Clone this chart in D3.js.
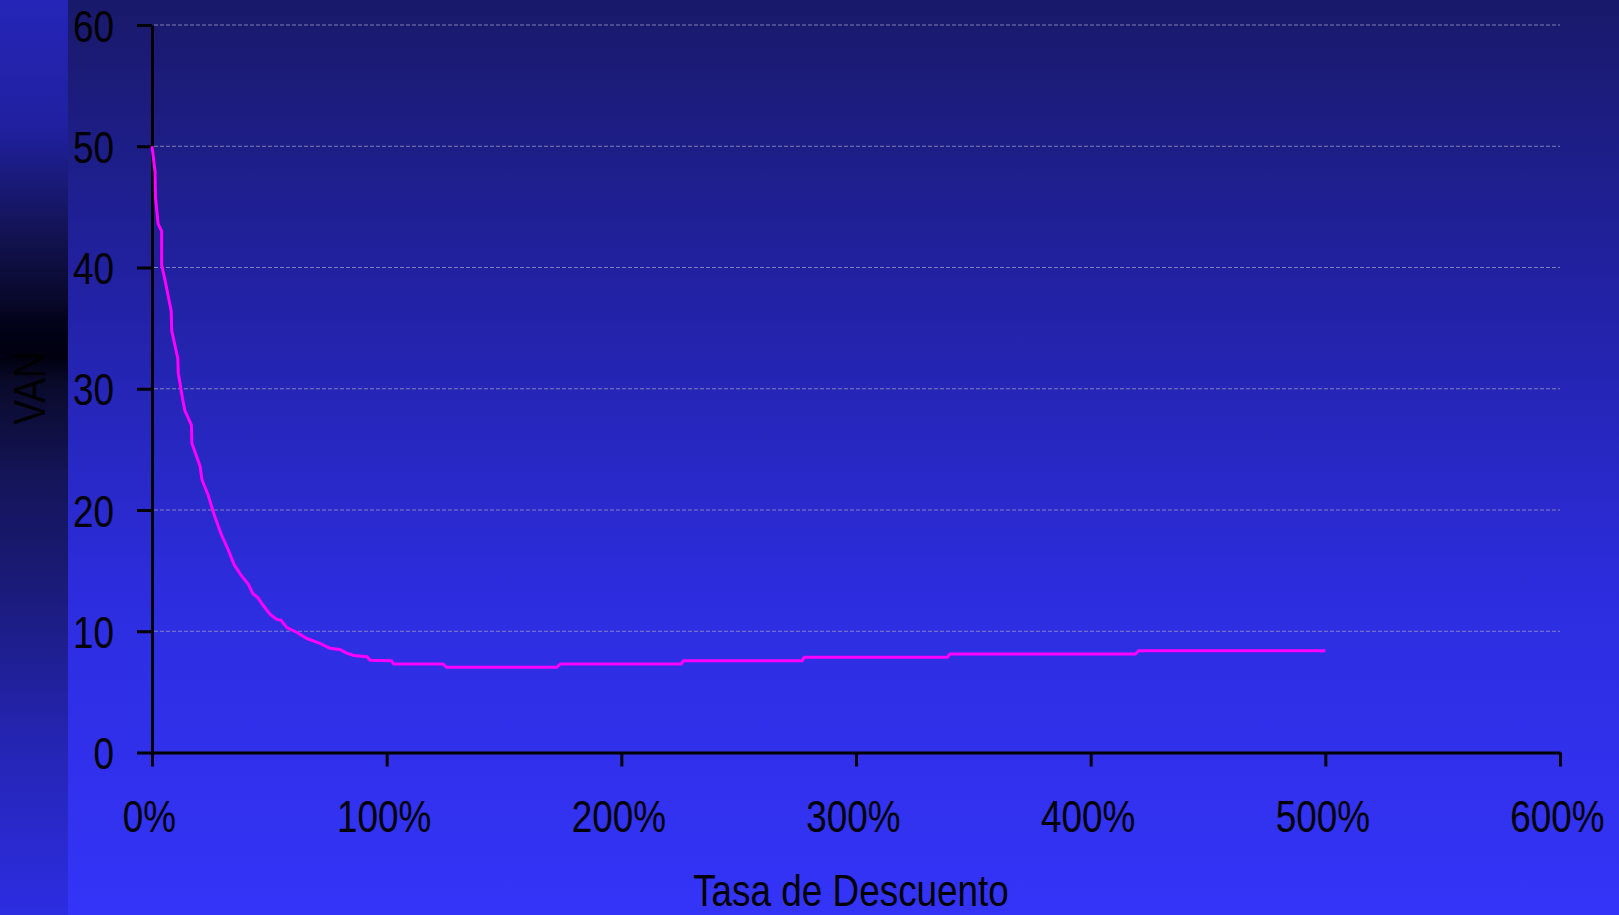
<!DOCTYPE html>
<html>
<head>
<meta charset="utf-8">
<script src="https://cdn.jsdelivr.net/npm/d3@7"></script>
<style>
  html, body { margin: 0; padding: 0; background: #1a1a6c; }
  svg { display: block; }
  text { font-family: "Liberation Sans", Arial, sans-serif; }
</style>
</head>
<body>
<svg id="chart" width="1619" height="915"></svg>
<script>
// ---- data ----
const rates = [0, 1.3, 1.5, 2.6, 4.1, 4.1, 5.5, 8.2, 8.4, 11.0, 11.2, 13.0, 14.0, 16.8, 17.0, 20.5, 21.3, 24.0, 26.5, 29.5, 32.5, 35.0, 38.0, 41, 43, 45, 47.5, 50.3, 53, 55, 57.5, 61.8, 66, 71.6, 75.8, 80, 83, 86, 91.6, 93, 102, 103, 124, 125.5, 172.5, 174, 225.5, 226.5, 277, 278, 339, 340, 419, 420.5, 500];
const van   = [50, 47.9, 45.8, 43.6, 43.0, 40.2, 39.0, 36.4, 34.8, 32.5, 31.3, 29.2, 28.2, 27.0, 25.5, 23.6, 22.5, 21.2, 19.6, 18.0, 16.7, 15.5, 14.6, 13.9, 13.1, 12.8, 12.1, 11.4, 11.0, 10.9, 10.3, 9.9, 9.4, 9.0, 8.6, 8.5, 8.2, 8.0, 7.9, 7.6, 7.57, 7.3, 7.3, 7.03, 7.03, 7.3, 7.3, 7.57, 7.57, 7.85, 7.85, 8.12, 8.12, 8.4, 8.4];
const yTicks = [0, 10, 20, 30, 40, 50, 60];
const xTicks = [0, 100, 200, 300, 400, 500, 600];
const xTitle = "Tasa de Descuento";
const yTitle = "VAN";

const svg = d3.select("#chart");
const W = 1619, H = 915;
const FS = 45, SX = 0.82; // condensed look

// ---- backgrounds ----
const defs = svg.append("defs");
const bg = defs.append("linearGradient").attr("id", "bg").attr("x1", 0).attr("y1", 0).attr("x2", 0).attr("y2", 1);
[[0, "#19196a"], [0.33, "#2222a6"], [0.66, "#2d2de0"], [1, "#3434f8"]].forEach(s =>
  bg.append("stop").attr("offset", s[0]).attr("stop-color", s[1]));
const strip = defs.append("linearGradient").attr("id", "strip").attr("x1", 0).attr("y1", 0).attr("x2", 0).attr("y2", 1);
[[0, "#2525b8"], [0.14, "#2020a0"], [0.26, "#121250"], [0.33, "#08082a"], [0.35, "#02021a"], [0.39, "#000010"], [0.42, "#0a0a2c"], [0.52, "#141458"], [0.65, "#1b1b7c"], [0.8, "#2424b0"], [1, "#2d2de2"]].forEach(s =>
  strip.append("stop").attr("offset", s[0]).attr("stop-color", s[1]));

svg.append("rect").attr("width", W).attr("height", H).attr("fill", "url(#bg)");
svg.append("rect").attr("width", 68).attr("height", H).attr("fill", "url(#strip)");

// ---- scales ----
const x = d3.scaleLinear().domain([0, 600]).range([152, 1560]);
const y = d3.scaleLinear().domain([0, 60]).range([752.5, 25]);

// ---- gridlines ----
svg.append("g").selectAll("line").data(yTicks.filter(d => d > 0)).join("line")
  .attr("x1", x(0) + 2).attr("x2", x(600))
  .attr("y1", d => y(d)).attr("y2", d => y(d))
  .attr("stroke", "#9a9ac0").attr("stroke-width", 1).attr("stroke-dasharray", "4,2").attr("opacity", 0.8);

// ---- axes ----
const yAxis = svg.append("g").attr("transform", `translate(${x(0)},0)`)
  .call(d3.axisLeft(y).tickValues(yTicks).tickSize(15).tickSizeOuter(0).tickPadding(23).tickFormat(d3.format("d")));
const xAxis = svg.append("g").attr("transform", `translate(0,${y(0)})`)
  .call(d3.axisBottom(x).tickValues(xTicks).tickSize(14).tickSizeOuter(0).tickPadding(34).tickFormat(d => d + "%"));

[yAxis, xAxis].forEach(g => {
  g.select(".domain").attr("stroke", "#000").attr("stroke-width", 3);
  g.selectAll(".tick line").attr("stroke", "#000").attr("stroke-width", 3);
  g.selectAll(".tick text").attr("fill", "#000").style("font-size", FS + "px");
});
// condense labels horizontally around their anchor
yAxis.selectAll(".tick text").each(function() {
  const t = d3.select(this);
  const tx = +t.attr("x");
  t.attr("x", 0).attr("dy", "0.36em").attr("transform", `translate(${tx},0) scale(${SX},1)`);
});
xAxis.selectAll(".tick text").each(function() {
  const t = d3.select(this);
  const ty = +t.attr("y");
  t.attr("y", 0).attr("transform", `translate(-3,${ty}) scale(${SX},1)`);
});

// ---- line ----
const pts = rates.map((r, i) => [r, van[i]]);
svg.append("path").datum(pts)
  .attr("fill", "none").attr("stroke", "#ff00ff").attr("stroke-width", 3)
  .attr("stroke-linejoin", "miter")
  .attr("d", d3.line().x(d => x(d[0])).y(d => y(d[1])));

// ---- titles ----
svg.append("text").attr("transform", `translate(851,906) scale(${SX},1)`).attr("text-anchor", "middle")
  .attr("fill", "#000").style("font-size", FS + "px").text(xTitle);
svg.append("text").attr("transform", `translate(45,388) rotate(-90) scale(${SX},1)`).attr("text-anchor", "middle")
  .attr("fill", "#000").style("font-size", FS + "px").text(yTitle);
</script>
</body>
</html>
